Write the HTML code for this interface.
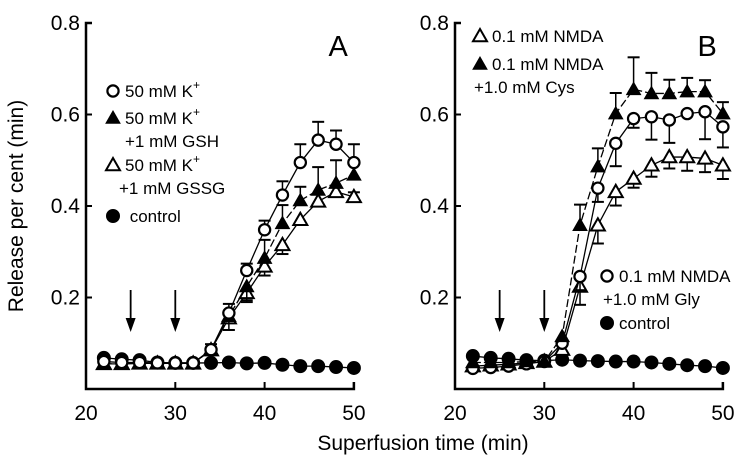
<!DOCTYPE html>
<html><head><meta charset="utf-8"><style>
body{margin:0;background:#fff}
svg{display:block;font-family:"Liberation Sans",Arial,sans-serif}
</style></head><body>
<svg id="c" width="750" height="458" viewBox="0 0 750 458"></svg>
<script>
const times=[22,24,26,28,30,32,34,36,38,40,42,44,46,48,50];
const yTicks=[0.2,0.4,0.6,0.8];
const xTicks=[20,30,40,50];
// Panel A
const aControl=[0.068,0.065,0.063,0.058,0.057,0.057,0.057,0.058,0.056,0.057,0.053,0.05,0.05,0.048,0.046];
const aK=[0.06,0.058,0.058,0.057,0.057,0.057,0.086,0.166,0.259,0.348,0.424,0.495,0.544,0.535,0.495];
const aKErr=[0,0,0,0,0,0,0.012,0.02,0.015,0.02,0.03,0.04,0.04,0.03,0.04];
const aGSH=[0.055,0.055,0.056,0.056,0.056,0.056,0.085,0.159,0.224,0.286,0.362,0.412,0.435,0.45,0.468];
const aGSHErr=[0,0,0,0,0,0,0,-0.03,-0.03,0.04,0.04,0.03,0.05,0.05,0];
const aGSSG=[0.055,0.055,0.056,0.056,0.056,0.056,0.085,0.155,0.21,0.268,0.315,0.37,0.41,0.431,0.42];
const aGSSGErr=[0,0,0,0,0,-0.01,0,0,-0.02,-0.02,-0.02,-0.01,0,0.01,0.01];
// Panel B
const bControl=[0.072,0.068,0.066,0.063,0.062,0.064,0.062,0.061,0.06,0.06,0.058,0.055,0.052,0.05,0.046];
const bCys=[0.058,0.058,0.058,0.06,0.06,0.115,0.358,0.486,0.602,0.655,0.646,0.646,0.65,0.65,0.602];
const bCysErr=[0,0,0,0,0,0,0.045,0.04,0.045,0.07,0.045,0.03,0.03,0.025,0.025];
const bGly=[0.045,0.047,0.05,0.055,0.06,0.1,0.246,0.439,0.537,0.591,0.595,0.588,0.602,0.606,0.573];
const bGlyErr=[0,0,0,0,0,0,-0.03,-0.03,-0.05,-0.02,-0.05,-0.05,0,-0.06,-0.045];
const bNMDA=[0.05,0.052,0.054,0.057,0.06,0.086,0.224,0.358,0.431,0.46,0.489,0.507,0.507,0.504,0.489];
const bNMDAErr=[0,0,0,0,0,0,-0.04,-0.04,-0.03,-0.02,-0.025,-0.025,-0.03,-0.03,-0.03];

const NS="http://www.w3.org/2000/svg";
const svg=document.getElementById('c');
function el(tag,attrs,parent){const e=document.createElementNS(NS,tag);for(const k in attrs)e.setAttribute(k,attrs[k]);(parent||svg).appendChild(e);return e;}
const y0=389, yPer=(389-23)/0.8;
function sy(v){return y0-v*yPer;}
function makeX(x20){return t=>x20+(t-20)*8.93;}

function marker(g,x,y,type){
  let m;
  const fill=(type==='fc'||type==='ft')?'#000':'#fff';
  if(type==='fc'||type==='oc'){m=el('circle',{cx:x,cy:y,r:type==='fc'?6.5:5.6,fill:fill,stroke:'#000','stroke-width':type==='fc'?1:2.2},g);}
  else{const s=7;m=el('polygon',{points:`${x},${y-s} ${x-s},${y+s*0.75} ${x+s},${y+s*0.75}`,fill:fill,stroke:'#000','stroke-width':type==='ft'?1:2},g);}
  return m;
}
function series(name,sx,vals,errs,type){
  const g=el('g',{});
  
  
  let d='';
  vals.forEach((v,i)=>{d+=(i?'L':'M')+sx(times[i])+','+sy(v);});
  el('path',{d:d,fill:'none',stroke:'#000','stroke-width':1.3,'stroke-dasharray':type==='ft'?'8,3':'none'},g);
  if(errs)vals.forEach((v,i)=>{const e=errs[i];if(!e)return;const x=sx(times[i]);const y2=sy(v+e);
    el('line',{x1:x,y1:sy(v),x2:x,y2:y2,stroke:'#000','stroke-width':1.5},g);
    el('line',{x1:x-6,y1:y2,x2:x+6,y2:y2,stroke:'#000','stroke-width':2},g);});
  vals.forEach((v,i)=>{const m=marker(g,sx(times[i]),sy(v),type);
    
    });
}
function panel(x20,label,id){
  const sx=makeX(x20);
  const g=el('g',{});
  
  
  el('path',{d:`M${x20+6},${sy(0.8)} H${x20} V${y0} H${sx(50)} V${y0-7}`,fill:'none',stroke:'#000','stroke-width':2.5},g);
  yTicks.forEach(v=>{el('line',{x1:x20,y1:sy(v),x2:x20+6,y2:sy(v),stroke:'#000','stroke-width':2},g);
    const t=el('text',{x:x20-6,y:sy(v)+7,'text-anchor':'end','font-size':21},g);t.textContent=v.toFixed(1);
    });
  xTicks.forEach(v=>{el('line',{x1:sx(v),y1:y0,x2:sx(v),y2:y0-7,stroke:'#000','stroke-width':2},g);
    const t=el('text',{x:sx(v),y:420,'text-anchor':'middle','font-size':21},g);t.textContent=v;
    });
  const L=el('text',{x:sx(50)-6,y:56,'text-anchor':'end','font-size':29},g);L.textContent=label;
  
  [25,30].forEach(t=>{const x=sx(t);el('line',{x1:x,y1:290,x2:x,y2:322,stroke:'#000','stroke-width':1.8},g);
    el('polygon',{points:`${x-5},318 ${x+5},318 ${x},332`,fill:'#000'},g);});
  return sx;
}
function legend(x,y,type,lines,name){
  const g=el('g',{});
  
  
  marker(g,x,y-6,type);
  lines.forEach((l,i)=>{const t=el('text',{x:i?x+(l.dx||12):x+12,y:y+i*23,'font-size':17},g);t.innerHTML=l.t;});
}
const sxA=panel(86,'A','panel-a');
const sxB=panel(455,'B','panel-b');
series('a-control',sxA,aControl,null,'fc');
series('a-gssg',sxA,aGSSG,aGSSGErr,'ot');
series('a-gsh',sxA,aGSH,aGSHErr,'ft');
series('a-k',sxA,aK,aKErr,'oc');
series('b-control',sxB,bControl,null,'fc');
series('b-nmda',sxB,bNMDA,bNMDAErr,'ot');
series('b-gly',sxB,bGly,bGlyErr,'oc');
series('b-cys',sxB,bCys,bCysErr,'ft');
legend(113,97,'oc',[{t:'50 mM K<tspan dy="-8" font-size="12">+</tspan>'}],'legend-a-k');
legend(113,124,'ft',[{t:'50 mM K<tspan dy="-8" font-size="12">+</tspan>'},{t:'+1 mM GSH',dx:12}],'legend-a-gsh');
legend(113,171,'ot',[{t:'50 mM K<tspan dy="-8" font-size="12">+</tspan>'},{t:'+1 mM GSSG',dx:6}],'legend-a-gssg');
legend(113,222,'fc',[{t:'&#160;control'}],'legend-a-control');
legend(480,42,'ot',[{t:'0.1 mM NMDA'}],'legend-b-nmda');
legend(480,70,'ft',[{t:'0.1 mM NMDA'},{t:'+1.0 mM Cys',dx:-6}],'legend-b-cys');
legend(607,282,'oc',[{t:'0.1 mM NMDA'},{t:'+1.0 mM Gly',dx:-4}],'legend-b-gly');
legend(607,329,'fc',[{t:'control'}],'legend-b-control');
const xt=el('text',{x:423,y:450,'text-anchor':'middle','font-size':21});xt.textContent='Superfusion time (min)';

const yt=el('text',{x:0,y:0,'text-anchor':'middle','font-size':21,transform:'translate(23,206) rotate(-90)'});yt.textContent='Release per cent (min)';

</script>
</body></html>
